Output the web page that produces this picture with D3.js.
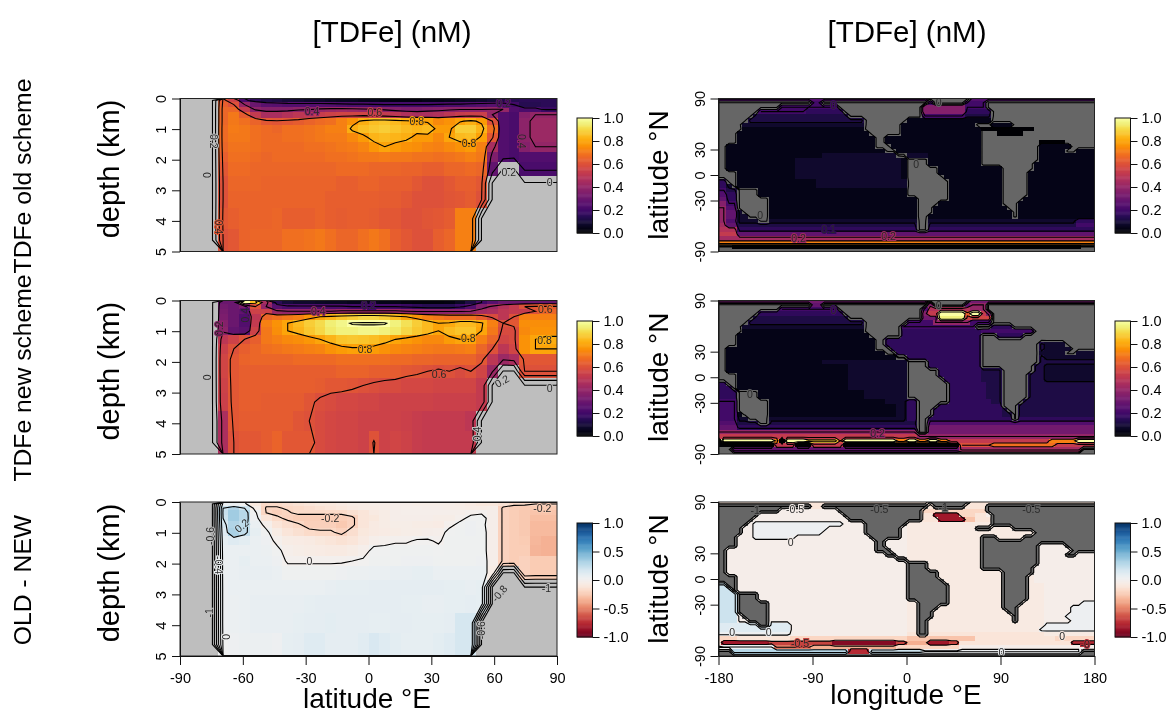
<!DOCTYPE html>
<html>
<head>
<meta charset="utf-8">
<script src="https://cdn.jsdelivr.net/npm/d3@7"></script>
<style>
  html, body { margin: 0; background: #fff; }
  svg { display: block; font-family: 'Liberation Sans', Arial, sans-serif; filter: blur(0.3px); }
</style>
</head>
<body>
<div id="chart"></div>
<script>
const _ = null;

// tick labels
const depthTicks = [0, 1, 2, 3, 4, 5];
const latTicks = [-90, -60, -30, 0, 30, 60, 90];
const lonTicks = [-180, -90, 0, 90, 180];
const mapLatTicks = [-90, -30, 0, 30, 90];
const seqBarTicks = [0, 0.2, 0.4, 0.6, 0.8, 1];
const divBarTicks = [-1, -0.5, 0, 0.5, 1];

// contour levels (first level of the two TDFe fields is the "0" line around land)
const seqLevels = [0.01, 0.2, 0.4, 0.6, 0.8, 1];
const mapSeqLevels = [0.01, 0.1, 0.2, 0.4, 0.6, 0.8, 1];
const sectionDiffLevels = [-0.99, -0.8, -0.6, -0.4, -0.2, 0, 0.2, 0.4];
const mapDiffLevels = [-0.99, -0.5, 0, 0.5];

// bottom edge of each depth layer, km
const depthEdges = [0, 0.13, 0.27, 0.43, 0.63, 0.85, 1.12, 1.41, 1.74, 2.09, 2.52, 3.02, 3.59, 4.26, 5];

// zonal mean sections, nM x 100, 36 latitudes by 14 layers, null is land
const sectionOld = [
  [_,_,_,_,62,55,22,16,13,12,10,9,8,8,7,6,6,5,5,4,3,3,3,4,4,5,6,7,8,10,12,14,15,15,15,15],
  [_,_,_,_,64,60,40,30,26,25,24,24,24,24,24,23,22,22,21,20,20,20,20,20,21,22,22,23,24,25,25,20,14,14,15,15],
  [_,_,_,_,66,66,52,38,36,36,36,38,39,41,42,43,42,41,40,38,36,35,35,36,37,38,39,39,39,40,40,24,22,22,18,18],
  [_,_,_,_,66,70,63,52,45,45,48,50,52,53,55,56,56,56,54,52,50,47,45,46,47,50,53,54,54,40,24,22,36,40,40,40],
  [_,_,_,_,66,70,68,65,62,61,62,63,65,67,68,72,76,82,85,86,84,82,80,79,74,76,79,82,78,60,24,22,38,42,42,42],
  [_,_,_,_,67,71,70,68,67,66,68,68,69,70,72,72,82,85,87,88,86,84,83,84,78,78,88,88,83,68,24,22,38,42,42,42],
  [_,_,_,_,67,70,70,68,67,67,68,68,69,70,71,71,74,78,83,84,83,82,78,78,74,80,84,85,79,62,24,22,38,42,42,42],
  [_,_,_,_,66,69,69,68,67,67,67,67,68,68,69,70,71,73,77,80,78,76,75,73,72,74,76,78,72,45,24,22,36,40,40,40],
  [_,_,_,_,64,68,68,67,66,67,67,67,67,67,68,68,69,70,70,71,70,70,69,69,68,69,70,72,70,35,24,22,24,24,24,24],
  [_,_,_,_,62,67,67,66,66,66,66,66,66,66,66,67,67,67,66,66,66,65,65,64,64,66,66,67,66,28,_,_,22,22,22,22],
  [_,_,_,_,60,66,66,66,65,65,65,65,65,65,65,64,64,65,65,64,64,64,62,60,60,62,64,64,62,_,_,_,_,_,_,_],
  [_,_,_,_,60,65,65,65,65,65,65,65,65,65,64,64,64,64,64,63,63,62,60,60,60,61,62,63,60,_,_,_,_,_,_,_],
  [_,_,_,_,62,64,65,65,65,66,64,64,64,65,64,63,64,64,63,62,62,60,60,61,62,63,72,72,_,_,_,_,_,_,_,_],
  [_,_,_,_,60,62,65,66,66,66,68,68,69,70,68,66,66,68,70,68,64,62,60,60,64,66,72,72,_,_,_,_,_,_,_,_]
];
const sectionNew = [
  [_,_,_,_,30,30,100,85,45,15,10,8,8,7,6,6,5,5,5,4,4,3,2,2,2,3,6,12,20,25,30,30,30,30,30,30],
  [_,_,_,_,32,30,35,60,40,25,22,22,22,22,22,22,20,20,20,20,20,18,16,14,14,14,18,24,35,42,48,52,60,62,62,62],
  [_,_,_,_,33,30,28,55,55,42,40,40,40,40,40,42,42,42,42,42,42,40,38,38,38,38,38,40,44,46,50,52,52,60,66,66],
  [_,_,_,_,34,30,24,50,66,68,70,72,76,80,83,86,88,90,90,88,84,80,76,72,70,68,68,68,64,58,50,60,72,72,72,72],
  [_,_,_,_,36,30,24,52,72,76,80,84,88,91,95,97,101,101,101,101,96,92,88,84,80,81,84,84,81,72,60,62,75,75,75,75],
  [_,_,_,_,38,28,26,55,70,75,80,83,87,90,94,96,96,97,97,96,94,90,87,84,80,84,86,86,80,70,58,58,74,76,76,76],
  [_,_,_,_,50,55,60,64,70,72,74,75,77,80,83,86,87,86,85,83,80,78,76,74,74,78,80,80,72,66,56,58,76,80,82,82],
  [_,_,_,_,54,60,64,66,68,69,70,71,72,73,76,78,79,79,78,76,74,73,72,71,70,70,71,72,66,60,50,56,76,80,80,80],
  [_,_,_,_,56,62,65,66,66,66,66,67,67,67,67,68,68,68,68,68,67,67,66,66,65,65,65,65,62,50,42,46,62,62,62,62],
  [_,_,_,_,56,62,64,64,64,64,64,64,64,64,64,65,65,65,64,64,63,62,61,60,59,60,58,60,56,42,_,_,60,60,60,60],
  [_,_,_,_,55,62,64,64,64,64,64,64,64,63,62,62,61,60,59,58,58,57,57,57,56,56,56,56,52,_,_,_,_,_,_,_],
  [_,_,_,_,54,62,64,64,63,63,63,63,61,59,58,57,57,56,56,55,55,55,55,55,54,54,54,54,52,_,_,_,_,_,_,_],
  [_,_,_,_,46,62,63,63,63,63,63,61,60,58,57,56,56,55,55,55,55,54,53,52,52,52,52,50,_,_,_,_,_,_,_,_],
  [_,_,_,_,46,60,62,62,63,65,62,62,62,58,57,56,56,55,60.5,55,56,55,53,52,52,52,52,52,_,_,_,_,_,_,_,_]
];
const sectionDiff = [
  [_,_,_,_,5,5,2,-10,-18,-18,-16,-14,-12,-10,-10,-8,-6,-6,-5,-5,-4,-4,-5,-5,-5,-5,-6,-8,-10,-10,-14,-18,-18,-20,-20,-20],
  [_,_,_,_,20,30,20,-5,-21,-21,-19,-18,-16,-14,-12,-10,-8,-6,-6,-5,-4,-3,-3,-4,-4,-5,-5,-6,-6,-5,-22,-24,-25,-25,-25,-25],
  [_,_,_,_,22,35,28,2,-20,-23,-21,-18,-18,-18,-18,-18,-15,-12,-8,-6,-4,-3,-3,-3,-3,-3,-3,-2,-1,-4,-22,-24,-26,-28,-28,-28],
  [_,_,_,_,20,35,28,4,-12,-18,-22,-24,-24,-24,-24,-24,-22,-12,-10,-6,-4,-4,-4,-4,-5,-5,-2,2,3,-4,-22,-24,-26,-30,-30,-30],
  [_,_,_,_,16,30,25,6,-3,-12,-16,-19,-23,-23,-23,-26,-22,-12,-8,-6,-5,-5,-6,-6,-7,-2,2,4,2,-4,-22,-24,-26,-32,-32,-32],
  [_,_,_,_,12,32,24,8,2,-6,-12,-15,-18,-19,-19,-22,-16,-10,-8,-7,-6,-5,-5,-4,-3,2,3,4,3,-4,-22,-24,-26,-32,-32,-32],
  [_,_,_,_,8,12,10,6,4,-2,-6,-7,-8,-10,-12,-14,-12,-8,-3,-2,-1,-1,1,1,-1,3,3,3,3,-4,-22,-24,-25,-33,-35,-35],
  [_,_,_,_,6,6,6,6,5,2,-3,-5,-6,-7,-8,-8,-6,-3,2,2,3,3,3,3,2,3,3,3,3,-4,-22,-24,-24,-34,-35,-35],
  [_,_,_,_,5,6,8,6,6,4,-1,-1,-1,-1,-1,-1,0,1,3,3,3,4,4,4,3,3,3,3,4,-4,-22,-24,-22,-25,-25,-25],
  [_,_,_,_,5,6,7,7,7,6,3,3,3,3,3,4,5,5,6,6,7,7,8,8,6,6,6,6,6,-6,_,_,-22,-25,-25,-25],
  [_,_,_,_,4,6,6,6,6,6,6,6,6,6,7,8,8,8,9,9,9,9,9,9,9,8,8,7,8,_,_,_,_,_,_,_],
  [_,_,_,_,4,5,6,7,7,7,7,7,8,9,9,9,9,9,9,9,9,8,8,7,7,8,8,9,8,_,_,_,_,_,_,_],
  [_,_,_,_,4,5,6,7,7,7,7,8,9,9,10,9,9,9,8,8,9,9,8,8,8,9,16,16,_,_,_,_,_,_,_,_],
  [_,_,_,_,2,4,5,5,5,4,8,9,12,12,9,9,9,11,15,12,10,8,8,8,10,12,16,16,_,_,_,_,_,_,_,_]
];

// land cells of the 72 x 36 map, north to south, [first, last] column
const mapLand = [
  [[40,47]],
  [[0,17],[20,39],[41,46],[51,71]],
  [[0,11],[23,38],[51,71]],
  [[0,7],[24,38],[52,71]],
  [[0,6],[25,38],[52,71]],
  [[0,5],[28,35],[52,71]],
  [[0,4],[28,34],[49,51],[56,71]],
  [[0,4],[28,34],[60,71]],
  [[0,3],[29,34],[50,52],[58,71]],
  [[0,3],[30,31],[50,71]],
  [[0,3],[30,31],[50,60],[66,71]],
  [[0,1],[30,32],[50,60],[67,71]],
  [[0,1],[32,33],[50,60],[66,67]],
  [[0,1],[34,35],[50,60]],
  [[0,1],[36,39],[50,60]],
  [[0,1],[36,39],[50,59]],
  [[0,1],[36,41],[54,59]],
  [[0,3],[36,41],[54,58]],
  [[0,3],[36,42],[54,58]],
  [[2,3],[36,43],[54,58]],
  [[3,3],[36,43],[54,58]],
  [[4,7],[36,43],[54,58]],
  [[4,7],[36,43],[54,58]],
  [[4,9],[38,43],[54,57]],
  [[4,9],[38,41],[54,56]],
  [[4,9],[38,40],[55,56]],
  [[5,9],[38,40],[56,56]],
  [[6,9],[38,39],[56,56]],
  [[8,9],[38,39]],
  [[38,39]],
  [[38,39]],
  [],
  [],
  [],
  [[0,2],[69,71]],
  [[0,71]]
];

// map values as runs of letter + count: a = 0, each letter +0.04, z = 1
const mapOld = [
  'g72', 'f72', 'f39 j8 f25', 'e7 f10 e22 j8 e25', 'd39 f8 d25', 'd30 b42', 'c30 b42', 'b50 a22', 'b50 a22',
  'b72', 'b60 a12', 'b72', 'b72', 'b20 c20 b32', 'b15 c20 b37', 'b15 c20 b37', 'b15 c20 b37', 'b15 c20 b37', 'b15 c20 b37',
  'e2 c2 b15 c20 b33', 'e2 c2 b15 c20 b33', 'f2 d2 b32 c4 b32', 'g2 e2 b68', 'h2 e2 b68', 'j2 f2 b68', 'k2 g2 b68', 'k2 h2 c6 b62', 'k2 h2 c6 b62',
  'k2 g2 c64 e4', 'l2 h2 d64 f4', 'm4 e68', 'n4 h68', 'l72', 's72', 'a72', 'a72'
];
const mapNew = [
  'i72', 'h40 j2 h6 k4 h20', 'f39 g1 m8 k4 f20', 'e39 j1 n2 z5 q1 z2 n1 j1 e20', 'd39 i3 y5 o5 e20', 'd36 f5 k7 f24',
  'c30 f19 e23', 'b30 e20 f10 d12', 'b30 e20 e10 d12', 'b32 e18 d22', 'b32 e18 d12 c10', 'b32 e18 d12 c10',
  'b32 e18 d10 c12', 'b34 d2 e14 d12 c10', 'b20 c16 e14 d22', 'b25 c11 e14 d12 c10', 'b25 c11 e14 d12 c10',
  'b25 c11 e14 d12 c10', 'b25 c11 e14 d12 c10', 'e4 b21 c11 e15 d21', 'e4 b21 c11 e15 d21', 'e4 b24 c8 e15 d21',
  'e4 b24 c8 e15 d21', 'f4 b28 c4 e16 d20', 'f4 b30 c2 e18 d18', 'f4 b30 c2 e18 d18', 'f4 b30 c2 e18 d18',
  'f4 c32 e36', 'g4 d34 g34', 'h4 e34 i34', 'k38 i34', 'n38 k34',
  'a1 z10 s1 a1 z4 w6 p1 z10 s2 z2 s2 z2 s2 n19 s5 z4', 'a11 n4 a3 n6 a22 p6 r12 n8', 'h46 l26', 'a72'
];
// same runs, a = -1, each letter +0.08, z = 1, capitals sit half a step higher
const mapDiff = [
  'l72', 'l72', 'm39 k12 m21', 'm39 l2 c5 k3 l2 m21', 'm39 l3 c5 j2 l3 m20', 'm7 n17 m12 L36', 'm7 n14 m15 L36',
  'm7 n13 m16 L36', 'm7 n8 m21 L36', 'm36 L24 m12', 'm36 L24 m12', 'm36 L24 m12', 'm36 L24 m12', 'm36 L24 m12',
  'm36 L24 m12', 'm36 L24 m12', 'm36 L24 m12', 'm36 L24 m12', 'm36 L24 m12', 'p2 m34 L26 m10', 'p4 m32 L26 m10',
  'p4 m32 L26 m10', 'p4 m32 L26 m10', 'p4 m32 L26 m7 n3', 'p4 m32 L26 m5 n5', 'p4 m32 L26 m5 n5', 'p4 m32 L26 m4 n6',
  'p4 m32 L26 m5 n5', 'o14 m22 L26 n10', 'o14 m22 L25 n11', 'n14 m22 l26 L10', 'k4 l10 k22 j13 l15 k8',
  'l1 c9 e12 b12 e2 i4 c4 e2 l21 d5', 'n11 g7 i16 k12 m26', 'q25 d4 p10 n33', 'a72'
];

// contour labels: x value, y value, text, rotation
const labelsSectionOld = [
  [-77, 2.5, '0', -90], [-74, 1.4, '0.2', 90], [-71.5, 4.2, '0.4', 90], [-27, 0.42, '0.4', 0], [3, 0.44, '0.6', 0],
  [23, 0.75, '0.8', 0], [48, 1.45, '0.8', 0], [64.5, 0.15, '0.2', 0], [73, 1.4, '0.4', 90], [67, 2.4, '0.2', 0], [86.5, 2.75, '0', 0]
];
const labelsSectionNew = [
  [-77, 2.5, '0', -90], [-71, 0.92, '0.2', -90], [-59, 0.48, '0.4', -90], [-24, 0.35, '0.4', 0], [0, 0.16, '0.2', 0],
  [-1.6, 1.6, '0.8', 0], [47.7, 1.23, '0.8', 0], [33.7, 2.39, '0.6', 0], [84.4, 0.3, '0.6', 0], [84, 1.3, '0.8', 0],
  [63.7, 2.63, '0.2', -30], [86.5, 2.85, '0', 0], [52, 4.35, '0.4', -90]
];
const labelsSectionDiff = [
  [-75.7, 1.1, '-0.6', -90], [-71.7, 2.05, '-0.4', 90], [-76, 3.6, '-1', -90], [-68, 4.38, '0', -90], [-60.5, 0.77, '0.2', -40],
  [-18.3, 0.52, '-0.2', 0], [-28.2, 1.93, '0', 0], [83, 0.22, '-0.2', 0], [85, 2.8, '-1', 0], [62.5, 2.97, '-0.8', -50], [54, 4.16, '-0.6', -90]
];
const labelsMapOld = [
  [-74.7, -63.4, '0.1', 0], [-103.4, -75, '0.2', 0], [-17.2, -72.4, '0.2', 0], [-140, -47.7, '0', 0],
  [9.3, 12.5, '0', 0], [-70, 81.4, '0', 0], [30.7, 86, '0', 0]
];
const labelsMapNew = [
  [-150, -20, '0', 0], [-27.7, -65.8, '0.2', 0], [30.7, 84.2, '0', 0], [-70, 78, '0', 0]
];
const labelsMapDiff = [
  [-145, 80, '-1', 0], [-106.6, 82, '-0.5', 0], [-26, 82, '-0.5', 0], [35, 84, '-1', 0], [119.4, 82, '-0.5', 0],
  [-111, 42.6, '0', 0], [-167, -62, '0', 0], [-132, -62.7, '0', 0], [-102, -75.5, '-0.5', 0], [149, -66.5, '0', 0],
  [171, -76, '-0', 0], [91, -86, '0', 0]
];

const rowLabels = ['TDFe old scheme', 'TDFe new scheme', 'OLD - NEW'];

const svg = d3.select('#chart').append('svg').attr('width', 1174).attr('height', 711);

const rowsY = [[98.5, 251.5], [300.5, 454], [502, 656]];
const barsY = [[118, 233], [321, 436], [523, 637]];
const sectionX = d3.scaleLinear().domain([-90, 90]).range([180, 557]);
const mapX = d3.scaleLinear().domain([-180, 180]).range([718.5, 1094.5]);

const seqColor = (v) => d3.interpolateInferno(Math.max(0, Math.min(1, v)));
const divColor = (v) => d3.interpolateRdBu(Math.max(0, Math.min(1, (v + 1) / 2)));

function expandRuns(spec) {
  const out = [];
  spec.split(' ').forEach((tok) => {
    for (let i = 0; i < +tok.slice(1); i++) out.push(tok[0]);
  });
  while (out.length < 72) out.push(out[out.length - 1]);
  return out.slice(0, 72);
}

function decodeLetter(c, base, step) {
  const lower = c.toLowerCase();
  const half = c === lower ? 0 : 0.5;
  return base + (lower.charCodeAt(0) - 97 + half) * step;
}

function decodeMap(rows, base, step) {
  return rows.map((spec, j) => {
    const row = expandRuns(spec).map((c) => decodeLetter(c, base, step));
    mapLand[j].forEach((span) => {
      for (let i = span[0]; i <= span[1]; i++) row[i] = null;
    });
    return row;
  });
}

const hundredths = (rows) => rows.map((r) => r.map((v) => (v === null ? null : v / 100)));

let clipId = 0;

// draws cells, contours, labels and box of one panel
function drawField(opts) {
  const { grid, xScale, yScale, gridX, gridY, color, landColor, landFill, levels, labels } = opts;
  const ny = grid.length;
  const nx = grid[0].length;
  const [x0, x1] = xScale.range();
  const [y0, y1] = yScale.range();

  clipId++;
  svg.append('clipPath').attr('id', 'clip' + clipId)
    .append('rect').attr('x', x0).attr('y', y0).attr('width', x1 - x0).attr('height', y1 - y0);

  const g = svg.append('g').attr('clip-path', 'url(#clip' + clipId + ')');
  const px = (i) => xScale(gridX(i));
  const py = (j) => yScale(gridY(j));

  const cells = [];
  grid.forEach((row, j) => row.forEach((v, i) => cells.push({ i, j, v })));

  g.selectAll('rect')
    .data(cells)
    .enter()
    .append('rect')
    .attr('x', (d) => px(d.i))
    .attr('y', (d) => py(d.j))
    .attr('width', (d) => px(d.i + 1) - px(d.i))
    .attr('height', (d) => py(d.j + 1) - py(d.j))
    .attr('shape-rendering', 'crispEdges')
    .attr('fill', (d) => (d.v === null ? landColor : color(d.v)));

  const contours = d3.contours().size([nx, ny]).thresholds(levels)(
    cells.map((d) => (d.v === null ? landFill : d.v))
  );
  const path = d3.geoPath(d3.geoTransform({
    point(x, y) {
      this.stream.point(px(x), py(y));
    },
  }));
  g.selectAll('path.level')
    .data(contours)
    .enter()
    .append('path')
    .attr('class', 'level')
    .attr('d', path)
    .attr('fill', 'none')
    .attr('stroke', '#000')
    .attr('stroke-width', 1.1);

  // R breaks the line under a contour label, so halo it with the local cell colour
  g.selectAll('text')
    .data(labels)
    .enter()
    .append('text')
    .attr('transform', (d) => 'translate(' + xScale(d[0]) + ',' + yScale(d[1]) + ') rotate(' + d[3] + ')')
    .attr('text-anchor', 'middle')
    .attr('dy', '0.35em')
    .attr('font-size', 10.5)
    .attr('fill', '#2a2a2a')
    .attr('stroke', (d) => {
      const i = Math.floor(gridX.invert(d[0]));
      const j = Math.floor(gridY.invert(d[1]));
      const v = grid[Math.max(0, Math.min(ny - 1, j))][Math.max(0, Math.min(nx - 1, i))];
      return v === null ? landColor : color(v);
    })
    .attr('stroke-width', 2)
    .style('paint-order', 'stroke')
    .text((d) => d[2]);

  svg.append('rect')
    .attr('x', x0).attr('y', y0).attr('width', x1 - x0).attr('height', y1 - y0)
    .attr('fill', 'none').attr('stroke', '#222').attr('stroke-width', 1);
}

function leftAxis(scale, x, ticks) {
  const g = svg.append('g').attr('transform', 'translate(' + x + ',0)')
    .call(d3.axisLeft(scale).tickValues(ticks).tickFormat((d) => String(d)).tickSize(8).tickSizeOuter(0));
  g.selectAll('text')
    .attr('transform', 'rotate(-90)')
    .attr('x', 0).attr('y', -14).attr('dy', 0)
    .style('text-anchor', 'middle')
    .style('font', '14.5px "Liberation Sans"');
  g.selectAll('path, line').attr('stroke', '#111');
}

function bottomAxis(scale, y, ticks) {
  const g = svg.append('g').attr('transform', 'translate(0,' + y + ')')
    .call(d3.axisBottom(scale).tickValues(ticks).tickFormat((d) => String(d)).tickSize(9).tickSizeOuter(0));
  g.selectAll('text').attr('y', 17).attr('dy', '0.71em').style('font', '14.5px "Liberation Sans"');
  g.selectAll('path, line').attr('stroke', '#111');
}

function colorBar(x, yRange, domain, ticks, color) {
  const scale = d3.scaleLinear().domain(domain).range([yRange[1], yRange[0]]);
  const steps = d3.range(0, 128);
  const dy = (yRange[1] - yRange[0]) / steps.length;
  svg.append('g').selectAll('rect')
    .data(steps)
    .enter()
    .append('rect')
    .attr('x', x)
    .attr('y', (d) => yRange[0] + d * dy)
    .attr('width', 15.5)
    .attr('height', dy + 0.5)
    .attr('fill', (d) => color(domain[1] - ((d + 0.5) / steps.length) * (domain[1] - domain[0])));
  svg.append('rect')
    .attr('x', x).attr('y', yRange[0]).attr('width', 15.5).attr('height', yRange[1] - yRange[0])
    .attr('fill', 'none').attr('stroke', '#111');
  const g = svg.append('g').attr('transform', 'translate(' + (x + 15.5) + ',0)')
    .call(d3.axisRight(scale).tickValues(ticks).tickFormat(d3.format('.1f')).tickSize(7).tickSizeOuter(0));
  g.selectAll('text')
    .text((d) => d.toFixed(1))
    .attr('x', 11)
    .style('font', '14.5px "Liberation Sans"');
  g.select('.domain').remove();
  g.selectAll('line').attr('stroke', '#111');
}

function addText(str, x, y, size, rotate) {
  svg.append('text')
    .attr('transform', 'translate(' + x + ',' + y + ')' + (rotate ? ' rotate(' + rotate + ')' : ''))
    .attr('text-anchor', 'middle')
    .attr('font-size', size)
    .attr('fill', '#000')
    .text(str);
}

// sections
const sections = [sectionOld, sectionNew, sectionDiff];
const sectionLabels = [labelsSectionOld, labelsSectionNew, labelsSectionDiff];
const sectionGridX = d3.scaleLinear().domain([0.5, 35.5]).range([-90, 90]);
const sectionGridY = d3.scaleLinear().domain(d3.range(depthEdges.length)).range(depthEdges);

sections.forEach((rows, r) => {
  const isDiff = r === 2;
  const yScale = d3.scaleLinear().domain([0, 5]).range(rowsY[r]);
  drawField({
    grid: hundredths(rows),
    xScale: sectionX,
    yScale,
    gridX: sectionGridX,
    gridY: sectionGridY,
    color: isDiff ? divColor : seqColor,
    landColor: '#bebebe',
    landFill: isDiff ? -1 : 0,
    levels: isDiff ? sectionDiffLevels : seqLevels,
    labels: sectionLabels[r],
  });
  leftAxis(yScale, 180, depthTicks);
  colorBar(577, barsY[r], isDiff ? [-1, 1] : [0, 1], isDiff ? divBarTicks : seqBarTicks, isDiff ? divColor : seqColor);
  addText('depth (km)', 119, (rowsY[r][0] + rowsY[r][1]) / 2 - 6, 29, -90);
  addText(rowLabels[r], 31, [176, 378, 580][r], 24.7, -90);
});
bottomAxis(sectionX, 656, latTicks);

// maps
const maps = [decodeMap(mapOld, 0, 0.04), decodeMap(mapNew, 0, 0.04), decodeMap(mapDiff, -1, 0.08)];
const mapLabels = [labelsMapOld, labelsMapNew, labelsMapDiff];
const mapGridX = d3.scaleLinear().domain([0.5, 71.5]).range([-180, 180]);
const mapGridY = d3.scaleLinear().domain([0.5, 35.5]).range([90, -90]);

maps.forEach((grid, r) => {
  const isDiff = r === 2;
  const yScale = d3.scaleLinear().domain([90, -90]).range(rowsY[r]);
  drawField({
    grid,
    xScale: mapX,
    yScale,
    gridX: mapGridX,
    gridY: mapGridY,
    color: isDiff ? divColor : seqColor,
    landColor: '#666666',
    landFill: isDiff ? -1 : 0,
    levels: isDiff ? mapDiffLevels : mapSeqLevels,
    labels: mapLabels[r],
  });
  leftAxis(yScale, 718.5, mapLatTicks);
  colorBar(1115, barsY[r], isDiff ? [-1, 1] : [0, 1], isDiff ? divBarTicks : seqBarTicks, isDiff ? divColor : seqColor);
  addText('latitude °N', 668, (rowsY[r][0] + rowsY[r][1]) / 2, 28, -90);
});
bottomAxis(mapX, 656, lonTicks);

addText('[TDFe] (nM)', 392, 42, 29.5);
addText('[TDFe] (nM)', 907, 42, 29.5);
addText('latitude °E', 367, 707.5, 28);
addText('longitude °E', 906, 704, 28);
</script>
</body>
</html>
